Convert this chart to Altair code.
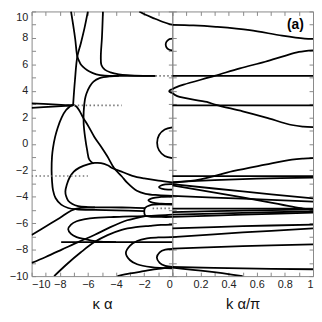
import altair as alt
import pandas as pd

# ---------------- left panel (kappa*a, E) ----------------
TOP_ARC = ([-2.35, -1.9, -1.35, -0.65, -0.2, 0.0], [10.0, 9.75, 9.5, 9.2, 9.05, 9.0])
LOOP_7 = ([0.0, -0.25, -0.42, -0.47, -0.42, -0.25, 0.0], [7.95, 7.88, 7.7, 7.5, 7.3, 7.12, 7.06])
LOOP_4 = ([0.0, -0.15, -0.22, -0.15, 0.0], [4.12, 4.07, 3.98, 3.9, 3.85])
LOOP_0 = ([0.0, -0.54, -0.94, -1.08, -0.94, -0.54, 0.0], [1.24, 1.08, 0.66, 0.08, -0.5, -0.92, -1.08])
S5 = ([-7.2, -7.05, -6.9, -6.75, -6.6, -6.47, -6.2, -5.89, -5.4, -4.8, -3.5, -2.0, -1.2],
      [10.0, 9.0, 7.9, 6.6, 6.2, 5.95, 5.68, 5.46, 5.25, 5.15, 5.13, 5.13, 5.13])
S6 = ([-6.0, -6.25, -6.5, -6.75, -6.92, -7.05], [10.0, 8.7, 7.6, 6.6, 4.8, 2.94])
S7 = ([-4.93, -5.0, -5.08, -5.04, -4.8, -4.4, -3.8, -3.2, -2.05, -1.2],
      [10.0, 8.05, 6.6, 5.95, 5.6, 5.4, 5.25, 5.18, 5.13, 5.13])
S8 = ([-3.8, -4.4, -5.17, -5.6, -5.86, -6.1, -6.21, -6.3, -6.3, -6.2, -6.05, -5.9, -5.6],
      [5.13, 5.1, 4.96, 4.7, 4.35, 3.8, 3.36, 2.4, 1.5, 0.5, -0.5, -1.2, -1.5])
LOOP_L = ([0.0, -0.99, -2.0, -2.84, -3.5, -4.24, -4.6, -5.07, -5.5, -6.0, -6.6, -7.0, -7.3, -7.5, -7.6,
           -7.55, -7.4, -7.1, -6.7, -6.0, -5.0, -4.38, -3.0, -1.94],
          [-2.91, -2.79, -2.62, -2.42, -2.15, -1.85, -1.62, -1.46, -1.45, -1.55, -1.8, -2.1, -2.55, -3.1, -3.6,
           -3.95, -4.3, -4.55, -4.71, -4.78, -4.8, -4.8, -4.83, -4.87])
DOME = ([-2.0, -4.0, -5.5, -6.8, -7.4, -7.9, -8.3, -8.48, -8.55, -8.58, -8.55, -8.48, -8.33, -8.15, -7.86,
         -7.55, -7.3, -7.12, -6.98, -6.8, -6.6, -6.35, -5.95, -5.54, -5.07, -4.61, -4.14, -3.6, -3.21, -2.52,
         -1.9, -1.0, 0.0],
        [-5.08, -5.03, -5.0, -4.95, -4.85, -4.6, -4.1, -3.5, -2.8, -2.0, -0.96, -0.3, 0.52, 1.2, 2.0,
         2.55, 2.8, 2.92, 2.92, 2.8, 2.5, 2.0, 1.3, 0.52, -0.2, -0.96, -1.83, -2.45, -2.94, -3.55,
         -3.78, -3.88, -3.93])
WEDGE_HI = ([-10.0, -8.5, -7.6, -7.05], [3.05, 2.98, 2.93, 2.9])
WEDGE_LO = ([-10.0, -8.5, -7.6, -7.05], [2.72, 2.8, 2.86, 2.9])
S9 = ([-10.0, -9.0, -8.0, -7.17, -6.5, -5.5], [-6.89, -6.25, -5.6, -5.04, -4.85, -4.8])
LOOP_P = ([0.0, -0.5, -1.5, -2.5, -3.5, -4.5, -5.5, -6.2, -6.8, -7.2, -7.4, -7.2, -6.8, -6.2, -5.5, -4.6, -4.0],
          [-5.36, -5.4, -5.45, -5.48, -5.5, -5.55, -5.6, -5.7, -5.85, -6.1, -6.45, -6.8, -7.05, -7.2, -7.35, -7.42, -7.43])
H_743 = ([-7.9, 0.0], [-7.43, -7.43])
S10 = ([-10.0, -9.0, -7.86, -6.7, -5.54, -4.4, -3.21, -2.5, -1.94], [-9.0, -8.55, -8.0, -7.43, -6.89, -6.3, -5.78, -5.6, -5.46])
S11 = ([-8.4, -7.5, -6.5, -5.54, -4.6, -3.6, -2.6, -1.6, -0.8, 0.0], [-10.0, -9.1, -8.2, -7.43, -6.9, -6.5, -6.3, -6.2, -6.13, -6.1])
S12 = ([-3.9, -3.0, -2.05, -1.0, 0.0], [-10.0, -9.8, -9.63, -9.45, -9.36])
LOOP_Q = ([0.0, -1.0, -1.8, -2.5, -3.0, -3.3, -3.0, -2.5, -1.5, 0.0], [-7.05, -7.08, -7.15, -7.35, -7.7, -8.25, -8.8, -9.1, -9.32, -9.42])
LOOP_R = ([0.0, -0.5, -0.9, -1.1, -0.9, -0.5, 0.0], [-7.95, -8.0, -8.2, -8.6, -9.0, -9.22, -9.3])
LOOP_M1 = ([0.0, -0.5, -0.8, -0.95, -0.8, -0.5, 0.0], [-3.05, -3.07, -3.15, -3.27, -3.38, -3.44, -3.46])
LOOP_M2 = ([0.0, -0.8, -1.4, -1.7, -1.4, -0.8, 0.0], [-4.0, -4.02, -4.1, -4.27, -4.45, -4.53, -4.55])
LOOP_O = ([0.0, -0.8, -1.6, -1.94, -1.94, -1.6, -0.8, 0.0], [-4.6, -4.58, -4.65, -4.85, -5.4, -5.5, -5.53, -5.53])

DOT_29 = ([-7.0, -3.6], [2.9, 2.9])
DOT_51 = ([-1.2, 0.0], [5.13, 5.13])
DOT_M244 = ([-10.0, -6.0], [-2.44, -2.44])
DOT_M49 = ([-1.4, 0.0], [-4.88, -4.88])

# ---------------- right panel (k*a/pi, E) ----------------
BAND_A = ([0.0, 0.15, 0.31, 0.55, 0.78, 0.94, 1.0], [8.99, 8.95, 8.84, 8.59, 8.17, 7.95, 7.93])
BAND_B = ([0.0, 0.03, 0.08, 0.3, 0.48, 0.66, 0.8, 0.9, 1.0], [4.12, 4.28, 4.47, 5.13, 5.7, 6.2, 6.65, 6.94, 7.06])
FLAT_51 = ([0.0, 1.0], [5.13, 5.13])
BAND_C = ([0.0, 0.035, 0.245, 0.31, 0.5, 0.66, 0.85, 0.93, 1.0], [3.85, 3.6, 3.16, 2.94, 2.45, 2.0, 1.42, 1.3, 1.26])
FLAT_29 = ([0.0, 1.0], [2.9, 2.9])
BAND_D = ([0.0, 0.2, 0.43, 0.66, 0.85, 0.93, 1.0], [-2.95, -2.69, -2.07, -1.58, -1.2, -1.12, -1.09])
FLAT_M244 = ([0.0, 1.0], [-2.44, -2.44])
BAND_D2 = ([0.0, 0.3, 0.6, 1.0], [-2.9, -2.75, -2.64, -2.56])
BAND_E1 = ([0.0, 0.5, 1.0], [-3.05, -3.6, -4.12])
BAND_E2 = ([0.0, 0.5, 0.93, 1.0], [-3.15, -4.05, -4.9, -4.98])
BAND_F = ([0.0, 0.5, 1.0], [-3.93, -4.15, -4.37])
FLAT_M49 = ([0.0, 1.0], [-4.9, -4.9])
BAND_G1 = ([0.0, 0.5, 1.0], [-5.16, -5.05, -4.96])
BAND_G2 = ([0.0, 0.5, 1.0], [-5.36, -5.22, -5.11])
BAND_G3 = ([0.0, 0.5, 1.0], [-5.53, -5.35, -5.21])
BAND_J1 = ([0.0, 0.5, 1.0], [-6.4, -6.23, -6.1])
BAND_J2 = ([0.0, 0.5, 1.0], [-7.05, -6.7, -6.4])
BAND_J3 = ([0.0, 0.5, 1.0], [-7.93, -7.74, -7.6])
BAND_K1 = ([0.0, 0.5, 1.0], [-9.31, -9.42, -9.48])
BAND_K2 = ([0.0, 0.25, 0.5], [-9.36, -9.65, -10.0])

LEFT_TICKS = [-10, -9, -8, -7, -6, -5, -4, -3, -2, -1, 0]
RIGHT_TICKS = [0, 0.1, 0.2, 0.3, 0.4, 0.5, 0.6, 0.7, 0.8, 0.9, 1]
Y_TICKS = list(range(-10, 11))

LEFT_SOLID = dict(top_arc=TOP_ARC, loop7=LOOP_7, loop4=LOOP_4, loop0=LOOP_0, s5=S5, s6=S6, s7=S7, s8=S8,
                  loopL=LOOP_L, dome=DOME, whi=WEDGE_HI, wlo=WEDGE_LO, s9=S9, loopP=LOOP_P, h743=H_743,
                  s10=S10, s11=S11, s12=S12, loopQ=LOOP_Q, loopR=LOOP_R, m1=LOOP_M1, m2=LOOP_M2, loopO=LOOP_O)
LEFT_DOTS = dict(d29=DOT_29, d51=DOT_51, dm244=DOT_M244, dm49=DOT_M49)
RIGHT_SOLID = dict(a=BAND_A, b=BAND_B, f51=FLAT_51, c=BAND_C, f29=FLAT_29, d=BAND_D, fm244=FLAT_M244,
                   d2=BAND_D2, e1=BAND_E1, e2=BAND_E2, f=BAND_F, fm49=FLAT_M49, g1=BAND_G1, g2=BAND_G2,
                   g3=BAND_G3, j1=BAND_J1, j2=BAND_J2, j3=BAND_J3, k1=BAND_K1, k2=BAND_K2)


def to_df(curves):
    rows = []
    for name, (xs, ys) in curves.items():
        for i, (x, y) in enumerate(zip(xs, ys)):
            rows.append({"x": x, "y": y, "curve": name, "order": i})
    return pd.DataFrame(rows)


FONT = "Liberation Sans"
TICK_COL = "#888888"
W, H = 143, 269
yscale = alt.Scale(domain=[-10, 10], nice=False, zero=False)


def panel(solid, dots, xdomain, xticks, xexpr, xfmt, xtitle, ylabels, label_a=False):
    xscale = alt.Scale(domain=xdomain, nice=False, zero=False)
    ax_b = alt.Axis(orient="bottom", values=xticks, labelExpr=xexpr, format=xfmt, offset=-4, tickSize=4,
                    tickColor=TICK_COL, domain=False, grid=False, labelFont=FONT, labelFontSize=11,
                    labelColor="#222222", labelPadding=3, title=xtitle, titleFont=FONT,
                    titleFontSize=15, titleFontWeight="normal", titleColor="#111111", titlePadding=7)
    ax_l = alt.Axis(orient="left", values=Y_TICKS, offset=-4, tickSize=4, tickColor=TICK_COL,
                    domain=False, grid=False, labels=ylabels,
                    labelExpr="datum.value % 2 == 0 ? datum.label : ''",
                    labelBaseline={"condition": {"test": "datum.value == 10", "value": "top"}, "value": "middle"},
                    labelFont=FONT, labelFontSize=11, labelColor="#222222", labelPadding=4, title=None)
    ax_t = alt.Axis(orient="top", values=xticks, offset=-4, tickSize=4, tickColor=TICK_COL,
                    domain=False, grid=False, labels=False, title=None)
    ax_r = alt.Axis(orient="right", values=Y_TICKS, offset=-4, tickSize=4, tickColor=TICK_COL,
                    domain=False, grid=False, labels=False, title=None)
    sdf = to_df(solid)
    lines = alt.Chart(sdf).mark_line(color="#000000", strokeWidth=1.8, interpolate="catmull-rom", clip=True).encode(
        x=alt.X("x:Q", scale=xscale, axis=ax_b),
        y=alt.Y("y:Q", scale=yscale, axis=ax_l),
        detail="curve:N", order="order:Q")
    mirror = alt.Chart(sdf).mark_line(opacity=0).encode(
        x=alt.X("x:Q", scale=xscale, axis=ax_t),
        y=alt.Y("y:Q", scale=yscale, axis=ax_r),
        detail="curve:N", order="order:Q")
    layers = [lines]
    if dots:
        ddf = to_df(dots)
        layers.append(alt.Chart(ddf).mark_line(color="#777777", strokeWidth=1.6, strokeDash=[1.5, 2.5], clip=True).encode(
            x=alt.X("x:Q", scale=xscale, axis=None),
            y=alt.Y("y:Q", scale=yscale, axis=None),
            detail="curve:N", order="order:Q"))
    layers.append(mirror)
    if label_a:
        layers.append(alt.Chart(pd.DataFrame({"t": ["(a)"]})).mark_text(
            font=FONT, fontSize=14, fontWeight="bold", color="#000000").encode(
            text="t:N", x=alt.value(125), y=alt.value(14)))
    return alt.layer(*layers).resolve_axis(x="independent", y="independent").properties(width=W, height=H)


left = panel(LEFT_SOLID, LEFT_DOTS, [-10, 0], LEFT_TICKS,
             "datum.value % 2 == 0 ? datum.label : ''", "d", "κ α", True)
right = panel(RIGHT_SOLID, None, [0, 1], RIGHT_TICKS,
              "datum.value > 0.01 && round(datum.value * 10) % 2 == 0 ? datum.label : ''", ".1~f", "k α/π", False,
              label_a=True)

chart = alt.hconcat(left, right, spacing=0, bounds="flush").properties(
    padding={"left": 0, "right": 0, "top": 0, "bottom": 0}
).configure_view(stroke="#888888", strokeWidth=1)

chart.save("out.html", embed_options={"renderer": "svg", "actions": False})
